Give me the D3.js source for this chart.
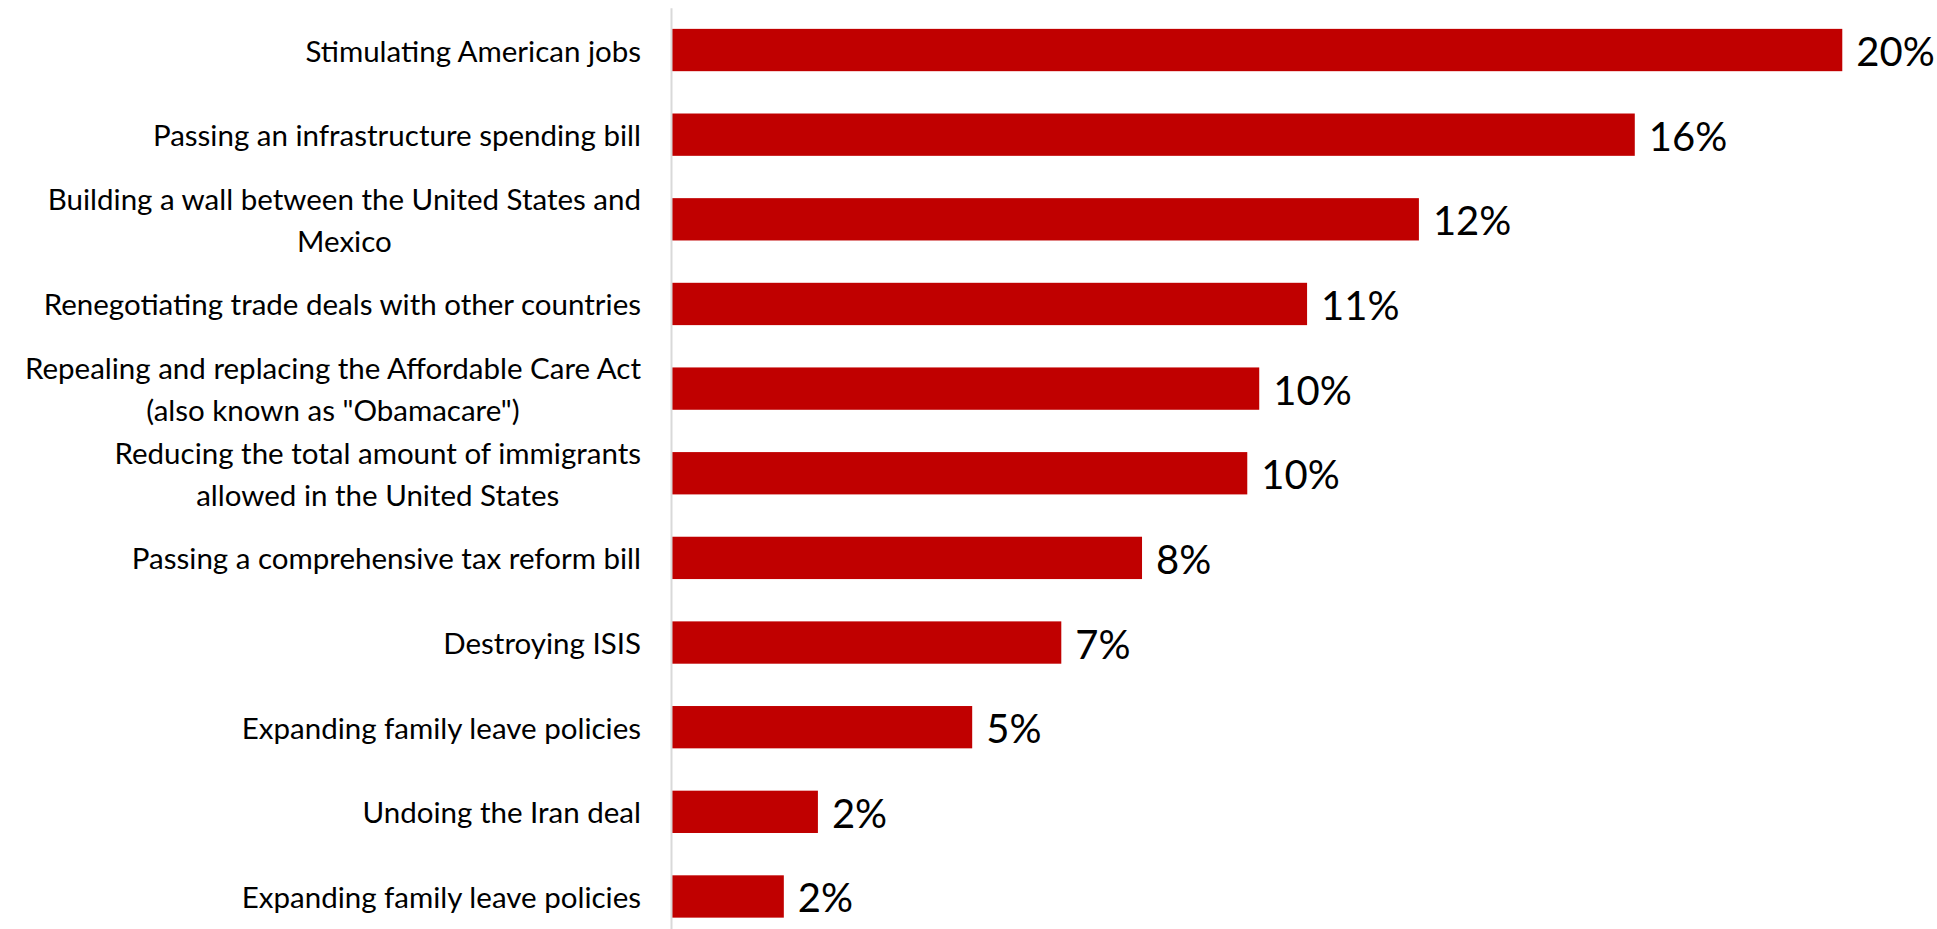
<!DOCTYPE html>
<html>
<head>
<meta charset="utf-8">
<script src="https://cdn.jsdelivr.net/npm/d3@7"></script>
<style>
  html, body { margin: 0; padding: 0; background: #ffffff; }
  svg { display: block; }
  text { font-family: "Lato", "Noto Sans", sans-serif; fill: #000; }
</style>
</head>
<body>
<svg id="chart" width="1937" height="929"></svg>
<script>
// ---- Data ----
const categories = [
  "Stimulating American jobs",
  "Passing an infrastructure spending bill",
  "Building a wall between the United States and\nMexico",
  "Renegotiating trade deals with other countries",
  "Repealing and replacing the Affordable Care Act\n(also known as \"Obamacare\")",
  "Reducing the total amount of immigrants\nallowed in the United States",
  "Passing a comprehensive tax reform bill",
  "Destroying ISIS",
  "Expanding family leave policies",
  "Undoing the Iran deal",
  "Expanding family leave policies"
];
const values = [19.57, 16.10, 12.49, 10.62, 9.82, 9.62, 7.86, 6.51, 5.02, 2.44, 1.87];
const xDomain = [0, 20];

// ---- Layout ----
const svg = d3.select("#chart");
const plotLeft = 672, plotRight = 1868;
const plotTop = 7.7, plotBottom = 938.8;
const labelRight = 641;
const catFont = 29.5, valFont = 40, lineHeight = 42;

const x = d3.scaleLinear().domain(xDomain).range([plotLeft, plotRight]);
const y = d3.scaleBand()
  .domain(d3.range(categories.length))
  .range([plotTop, plotBottom])
  .paddingInner(0.5)
  .paddingOuter(0.25);

// Bars
svg.append("g").selectAll("rect")
  .data(values)
  .join("rect")
  .attr("x", x(0))
  .attr("y", (d, i) => y(i))
  .attr("width", d => x(d) - x(0))
  .attr("height", y.bandwidth())
  .attr("fill", "#c00000");

// Vertical axis line
const axis = svg.append("g")
  .attr("transform", `translate(${x(0) - 1},0)`)
  .call(d3.axisLeft(y).tickSize(0).tickSizeOuter(0).tickFormat(""));
axis.select(".domain").attr("stroke", "#d9d9d9").attr("stroke-width", 2);
axis.selectAll(".tick").remove();

// Category labels (wrapped lines centered within block, block right-aligned)
const catG = svg.append("g");
categories.forEach((c, i) => {
  const lines = c.split("\n");
  const cy = y(i) + y.bandwidth() / 2;
  const g = catG.append("g");
  const texts = lines.map((ln, j) => g.append("text")
    .attr("font-size", catFont)
    .attr("dominant-baseline", "central")
    .attr("text-anchor", "middle")
    .attr("y", cy + (j - (lines.length - 1) / 2) * lineHeight)
    .text(ln));
  const w = d3.max(texts, t => t.node().getComputedTextLength());
  texts.forEach(t => t.attr("x", labelRight - w / 2));
});

// Value labels
svg.append("g").selectAll("text")
  .data(values)
  .join("text")
  .attr("x", d => x(d) + 14)
  .attr("y", (d, i) => y(i) + y.bandwidth() / 2 + 1)
  .attr("dominant-baseline", "central")
  .attr("font-size", valFont)
  .text(d => Math.round(d) + "%");
</script>
</body>
</html>
